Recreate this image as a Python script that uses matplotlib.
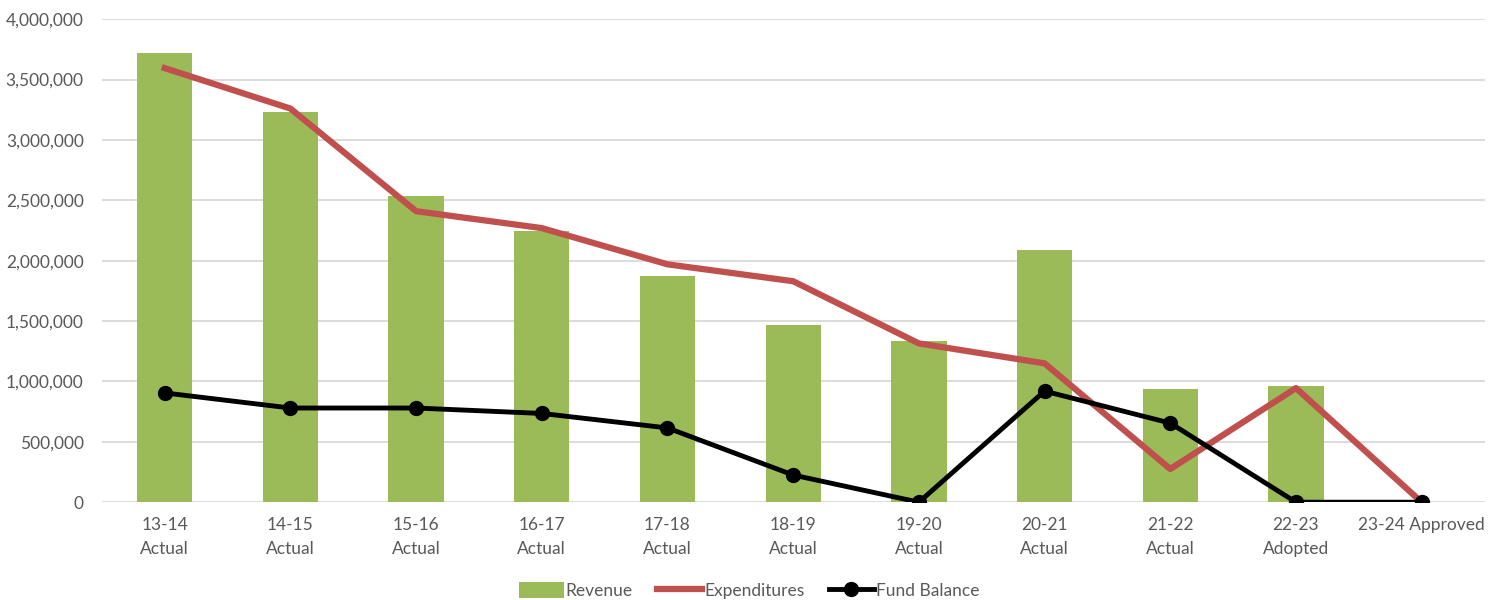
import matplotlib
matplotlib.use("Agg")
import matplotlib.pyplot as plt
from matplotlib.ticker import FuncFormatter
from matplotlib.lines import Line2D
from matplotlib.patches import Patch
import numpy as np

categories = ["13-14\nActual", "14-15\nActual", "15-16\nActual", "16-17\nActual",
              "17-18\nActual", "18-19\nActual", "19-20\nActual", "20-21\nActual",
              "21-22\nActual", "22-23\nAdopted", "23-24 Approved"]
revenue = [3720000, 3230000, 2535000, 2245000, 1870000, 1465000, 1335000,
           2090000, 935000, 960000, 0]
expenditures = [3595000, 3260000, 2410000, 2270000, 1970000, 1830000, 1315000,
                1150000, 275000, 945000, 0]
fund_balance = [905000, 780000, 780000, 735000, 615000, 225000, 0,
                920000, 655000, 0, 0]

plt.rcParams['font.family'] = ['Lato', 'DejaVu Sans']

GREEN = "#9BBB59"
RED = "#C0504D"
GREY_TXT = "#595959"

fig = plt.figure(figsize=(14.98, 6.0), dpi=100)
ax = fig.add_axes([0.068, 0.163, 0.923, 0.805])

x = np.arange(len(categories))
ax.bar(x, revenue, width=0.44, color=GREEN, zorder=2)
ax.plot(x, expenditures, color=RED, lw=4.5, zorder=3)
ax.plot(x, fund_balance, color="black", lw=3.5, marker="o", markersize=10,
        zorder=4)

ax.set_xlim(-0.5, len(categories) - 0.5)
ax.set_ylim(0, 4000000)
ax.set_yticks(np.arange(0, 4000001, 500000))
ax.yaxis.set_major_formatter(FuncFormatter(lambda v, p: f"{int(v):,}"))
ax.set_xticks(x)
ax.set_xticklabels(categories, linespacing=1.55)
ax.grid(axis="y", color="#D9D9D9", lw=1.3, zorder=0)
ax.set_axisbelow(True)
for s in ax.spines.values():
    s.set_visible(False)
ax.tick_params(axis="both", length=0, labelsize=12.5, colors=GREY_TXT)
ax.tick_params(axis="y", pad=13)
ax.tick_params(axis="x", pad=11)

handles = [
    Patch(facecolor=GREEN, edgecolor="none"),
    Line2D([0], [0], color=RED, lw=4.5),
    Line2D([0], [0], color="black", lw=3.5, marker="o", markersize=10),
]
fig.legend(handles, ["Revenue", "Expenditures", "Fund Balance"],
           loc="lower center", bbox_to_anchor=(0.5, -0.024), ncol=3,
           frameon=False, fontsize=12.5, labelcolor=GREY_TXT,
           handlelength=2.6, handletextpad=0.1, columnspacing=1.4,
           handleheight=1.0)

fig.savefig("out.png", dpi=100)
